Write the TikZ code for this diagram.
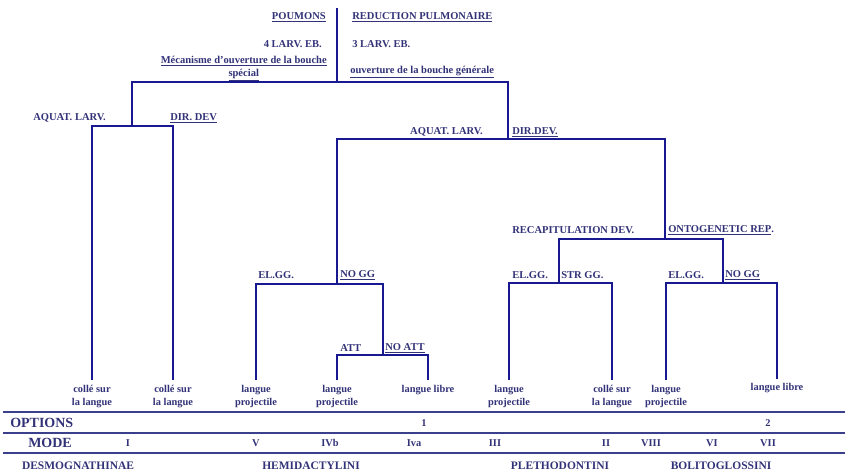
\documentclass[tikz,border=0pt]{standalone}
\usepackage{fontspec}
\setmainfont{Liberation Serif}
\usepackage{tikz}

\definecolor{treeblue}{RGB}{24,24,145}
\definecolor{txtblue}{RGB}{50,50,120}
\definecolor{ruleblue}{RGB}{58,64,140}

\tikzset{
  branch/.style={draw=treeblue, line width=2.1pt, line join=miter},
  lbl/.style={inner sep=0pt, text=txtblue, font=\bfseries\fontsize{7.9}{9.5}\selectfont},
  leaf/.style={anchor=north, inner sep=0pt, outer sep=0pt, text=txtblue, align=center, font=\bfseries\fontsize{7.8}{10}\selectfont},
  hrule/.style={draw=ruleblue, line width=1.7pt},
  rowhead/.style={anchor=west, inner sep=0pt, text=txtblue, font=\bfseries\fontsize{10.5}{12}\selectfont},
  cell/.style={inner sep=0pt, text=txtblue, font=\bfseries\fontsize{7.8}{9}\selectfont},
  family/.style={inner sep=0pt, text=txtblue, font=\bfseries\fontsize{8.6}{10}\selectfont}
}

\begin{document}
\begin{tikzpicture}[x=0.75pt,y=0.75pt,yscale=-1,xscale=1]
\useasboundingbox (0,0) rectangle (848,474);

% branch points
\coordinate (top) at (337,8);
\coordinate (n0) at (337,82);
\coordinate (nA) at (132,126);
\coordinate (nB) at (508,139);
\coordinate (nC) at (337,284);
\coordinate (nD) at (383,355);
\coordinate (nE) at (665,239);
\coordinate (nF) at (559,283);
\coordinate (nG) at (723,283);

% leaves
\node[leaf] (l1) at (92,385) {collé sur\\la langue};
\node[leaf] (l2) at (173,385) {collé sur\\la langue};
\node[leaf] (l3) at (256,385) {langue\\projectile};
\node[leaf] (l4) at (337,385) {langue\\projectile};
\node[leaf] (l5) at (428,385) {langue libre};
\node[leaf] (l6) at (509,385) {langue\\projectile};
\node[leaf] (l7) at (612,385) {collé sur\\la langue};
\node[leaf] (l8) at (666,385) {langue\\projectile};
\node[leaf] (l9) at (777,383) {langue libre};

% tree
\draw[branch] (top) -- (n0);
\draw[branch] (n0) -| (nA);
\draw[branch] (n0) -| (nB);
\draw[branch] (nA) -| ([yshift=-4pt]l1.north);
\draw[branch] (nA) -| ([yshift=-4pt]l2.north);
\draw[branch] (nB) -| (nC);
\draw[branch] (nB) -| (nE);
\draw[branch] (nC) -| ([yshift=-4pt]l3.north);
\draw[branch] (nC) -| (nD);
\draw[branch] (nD) -| ([yshift=-4pt]l4.north);
\draw[branch] (nD) -| ([yshift=-4pt]l5.north);
\draw[branch] (nE) -| (nF);
\draw[branch] (nE) -| (nG);
\draw[branch] (nF) -| ([yshift=-4pt]l6.north);
\draw[branch] (nF) -| ([yshift=-4pt]l7.north);
\draw[branch] (nG) -| ([yshift=-4pt]l8.north);
\draw[branch] (nG) -| ([yshift=-3pt]l9.north);

% branch labels
\node[lbl, anchor=east] (poumons) at (326,17) {\underline{POUMONS}};
\node[lbl, anchor=west] (reduction) at (352,17) {\underline{REDUCTION PULMONAIRE}};
\node[lbl, anchor=east] (larv4) at (322,44) {4 LARV. EB.};
\node[lbl, anchor=west] (larv3) at (352,44) {3 LARV. EB.};
\node[lbl, anchor=north east, align=center] (special) at (327,56) {\underline{Mécanisme d'ouverture de la bouche}\\\underline{spécial}};
\node[lbl, anchor=west] (generale) at (350,72) {\underline{ouverture de la bouche générale}};
\node[lbl, anchor=west] (aquatA) at (33,118) {AQUAT. LARV.};
\node[lbl, anchor=west] (dirA) at (170,118) {\underline{DIR. DEV}};
\node[lbl, anchor=east] (aquatB) at (483,132) {AQUAT. LARV.};
\node[lbl, anchor=west] (dirB) at (512,132) {\underline{DIR.DEV.}};
\node[lbl, anchor=west] (elggC) at (258,275) {EL.GG.};
\node[lbl, anchor=west] (noggC) at (340,275) {\underline{NO GG}};
\node[lbl, anchor=west] (att) at (340,348) {ATT};
\node[lbl, anchor=west] (noatt) at (385,348) {\underline{NO ATT}};
\node[lbl, anchor=west] (recap) at (512,230) {RECAPITULATION DEV.};
\node[lbl, anchor=west] (onto) at (668,230) {\underline{ONTOGENETIC REP}.};
\node[lbl, anchor=west] (elggF) at (512,275) {EL.GG.};
\node[lbl, anchor=west] (strgg) at (561,275) {STR GG.};
\node[lbl, anchor=west] (elggG) at (668,275) {EL.GG.};
\node[lbl, anchor=west] (noggG) at (725,275) {\underline{NO GG}};

% table rules
\draw[hrule] (3,412) -- (845,412);
\draw[hrule] (3,433) -- (845,433);
\draw[hrule] (3,453) -- (845,453);

% options row
\node[rowhead] (options) at (10,423) {OPTIONS};
\node[cell] (opt1) at (424,423) {1};
\node[cell] (opt2) at (768,423) {2};

% mode row
\node[rowhead] (mode) at (28,443) {MODE};
\node[cell] (mI) at (128,443) {I};
\node[cell] (mV) at (256,443) {V};
\node[cell] (mIVb) at (330,443) {IVb};
\node[cell] (mIva) at (414,443) {Iva};
\node[cell] (mIII) at (495,443) {III};
\node[cell] (mII) at (606,443) {II};
\node[cell] (mVIII) at (651,443) {VIII};
\node[cell] (mVI) at (712,443) {VI};
\node[cell] (mVII) at (768,443) {VII};

% families
\node[family] (desmo) at (78,466) {DESMOGNATHINAE};
\node[family] (hemi) at (311,466) {HEMIDACTYLINI};
\node[family] (pletho) at (560,466) {PLETHODONTINI};
\node[family] (bolito) at (721,466) {BOLITOGLOSSINI};

\end{tikzpicture}
\end{document}
